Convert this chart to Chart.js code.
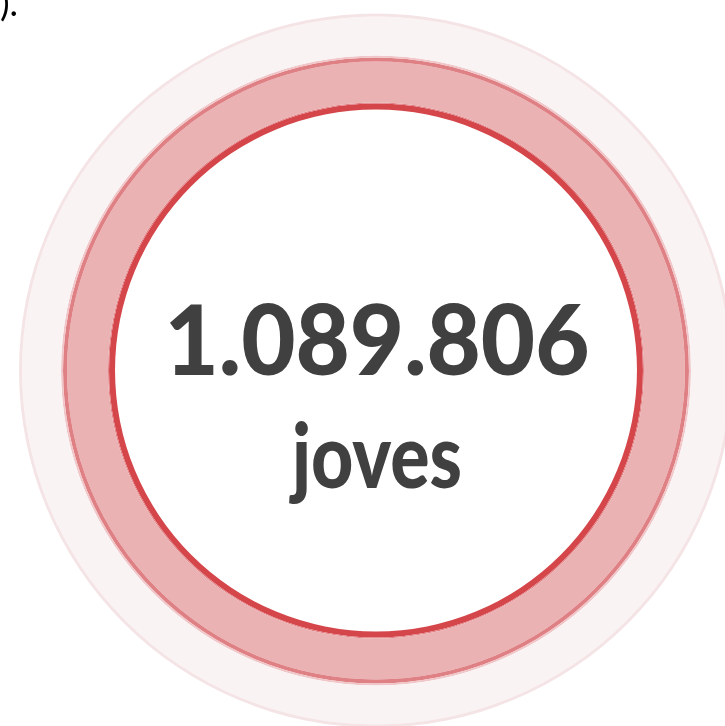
<!DOCTYPE html>
<html>
<head>
<meta charset="utf-8">
<script src="https://cdn.jsdelivr.net/npm/chart.js@4/dist/chart.umd.min.js"></script>
<style>
  html, body { margin: 0; padding: 0; background: #ffffff; }
  #wrap { width: 725px; height: 726px; position: relative; }
</style>
</head>
<body>
<div id="wrap"><canvas id="ringChart" width="725" height="726"></canvas></div>
<script>
// Data
const categories = ['joves']
const values = [1089806]
const ringNames = ['halo border', 'halo', 'ring edge glow', 'ring edge', 'ring', 'inner line glow', 'inner line']
const ringWeights = [3, 39, 2, 4, 41, 1, 6]
const ringColors = ['#F5E4E6', '#FAF3F4', '#F0C6C8', '#DF8085', '#EBB2B3', '#E07A7E', '#D5464B']

function formatThousands(n) {
  return String(n).replace(/\B(?=(\d{3})+(?!\d))/g, '.')
}

// Draws a string fitted to a given width
function fitText(ctx, text, cx, baseline, size, targetWidth, color) {
  ctx.save()
  ctx.font = '900 ' + size + 'px Lato'
  ctx.fillStyle = color
  ctx.textAlign = 'center'
  ctx.textBaseline = 'alphabetic'
  const w = ctx.measureText(text).width
  const sx = targetWidth / w
  ctx.translate(cx, baseline)
  ctx.scale(sx, 1)
  ctx.fillText(text, 0, 0)
  ctx.restore()
}

const centerText = {
  id: 'centerText',
  afterDraw(chart) {
    const ctx = chart.ctx
    const meta = chart.getDatasetMeta(0)
    const arc = meta.data[0]
    const cx = arc.x + 1
    fitText(ctx, formatThousands(values[0]), cx, 375, 97, 425, '#404040')
    fitText(ctx, categories[0], cx, 488, 90, 170, '#404040')

    // tail of the sentence above the graphic
    ctx.save()
    ctx.font = '36px Lato'
    ctx.fillStyle = '#000000'
    ctx.textAlign = 'right'
    ctx.textBaseline = 'alphabetic'
    ctx.fillText(').', 18, 16)
    ctx.restore()
  }
}

const ctx = document.getElementById('ringChart').getContext('2d')

new Chart(ctx, {
  type: 'doughnut',
  data: {
    labels: categories,
    datasets: ringNames.map((name, i) => ({
      label: name,
      data: values,
      weight: ringWeights[i],
      backgroundColor: ringColors[i],
      borderWidth: 0
    }))
  },
  options: {
    responsive: false,
    animation: false,
    events: [],
    radius: 357,
    cutout: '73.1%',
    layout: {
      padding: { left: 27, right: 0, top: 15, bottom: 0 }
    },
    plugins: {
      legend: { display: false },
      tooltip: { enabled: false },
      title: { display: false }
    }
  },
  plugins: [centerText]
})
</script>
</body>
</html>
